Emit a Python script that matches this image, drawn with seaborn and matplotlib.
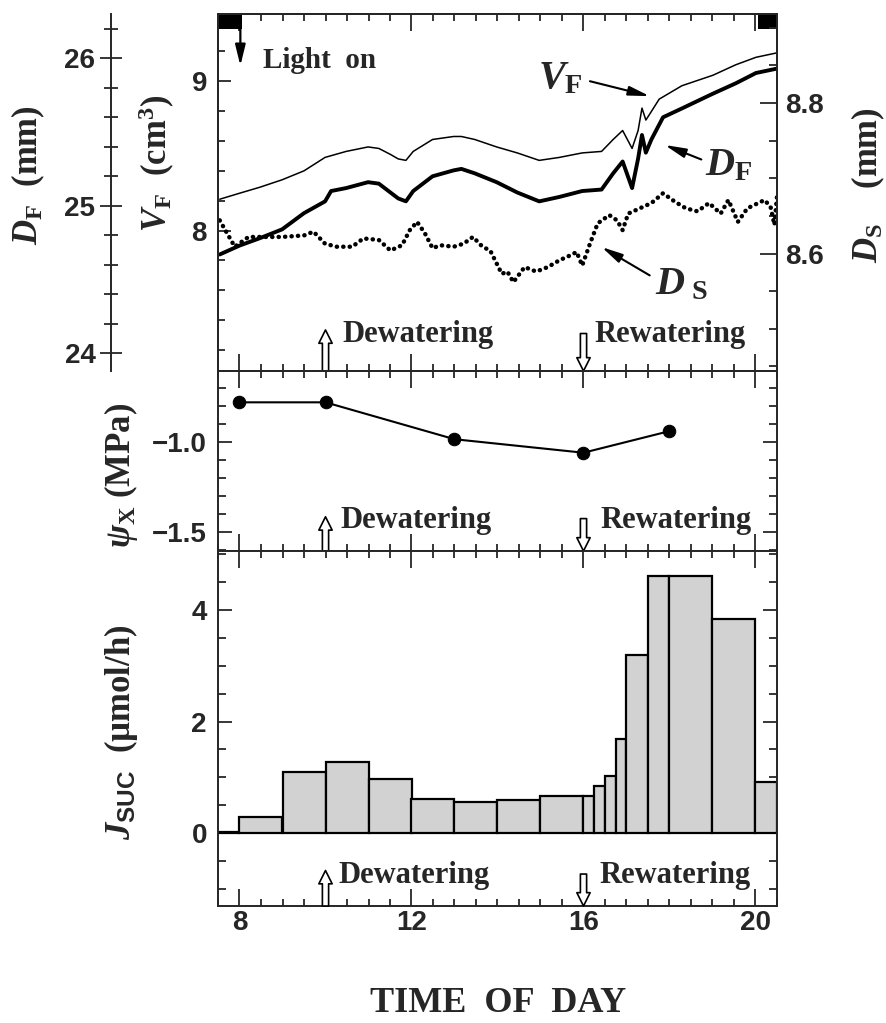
import numpy as np
import matplotlib as mpl
mpl.use('Agg')
import matplotlib.pyplot as plt
import matplotlib.transforms as mtransforms
from matplotlib.ticker import MultipleLocator
import seaborn as sns

# fruit volume V_F (cm3), thin line
vf_time = [7.54, 8.0, 8.47, 8.99, 9.5, 9.99, 10.48, 10.99, 11.24, 11.51, 11.69, 11.87,
           12.04, 12.49, 12.98, 13.16, 13.47, 13.98, 14.46, 14.97, 15.44, 15.97, 16.42,
           16.69, 16.91, 17.13, 17.27, 17.36, 17.45, 17.54, 17.76, 18.29, 19.01, 19.54,
           20.01, 20.5]
vf_cm3 = [8.21, 8.25, 8.29, 8.34, 8.40, 8.49, 8.53, 8.56, 8.55, 8.51, 8.48, 8.47,
          8.53, 8.61, 8.63, 8.63, 8.61, 8.56, 8.52, 8.47, 8.49, 8.52, 8.53,
          8.61, 8.67, 8.55, 8.67, 8.82, 8.74, 8.78, 8.88, 8.97, 9.04, 9.11,
          9.16, 9.19]

# fruit diameter D_F (mm), thick line
df_time = [7.54, 8.0, 8.47, 8.99, 9.5, 9.99, 10.13, 10.48, 10.99, 11.24, 11.51, 11.69,
           11.87, 12.04, 12.49, 12.98, 13.16, 13.47, 13.98, 14.46, 14.97, 15.44, 15.97,
           16.42, 16.69, 16.91, 17.13, 17.27, 17.36, 17.45, 17.58, 17.85, 18.29, 19.01,
           19.54, 20.01, 20.5]
df_mm = [24.67, 24.73, 24.78, 24.84, 24.95, 25.03, 25.10, 25.12, 25.16, 25.15, 25.09, 25.05,
         25.03, 25.10, 25.20, 25.24, 25.25, 25.22, 25.16, 25.09, 25.03, 25.06, 25.10,
         25.11, 25.22, 25.30, 25.12, 25.32, 25.48, 25.36, 25.45, 25.60, 25.66, 25.76,
         25.83, 25.90, 25.93]

# stem diameter D_S (mm), dotted
ds_time = [7.54, 7.71, 7.89, 8.21, 8.47, 8.99, 9.5, 9.72, 9.99, 10.26,
           10.62, 10.88, 11.24, 11.51, 11.78, 11.96, 12.13, 12.31, 12.49, 12.67,
           12.98, 13.21, 13.43, 13.65, 13.83, 14.1, 14.23, 14.37, 14.63, 14.9,
           15.17, 15.44, 15.71, 15.84, 15.97, 16.15, 16.33, 16.6, 16.78, 16.91,
           17.04, 17.31, 17.58, 17.85, 18.12, 18.38, 18.65, 18.92, 19.19, 19.37,
           19.59, 19.81, 20.21, 20.35, 20.44, 20.5]
ds_mm = [8.644, 8.627, 8.609, 8.622, 8.622, 8.622, 8.624, 8.629, 8.613, 8.609,
         8.609, 8.620, 8.618, 8.604, 8.611, 8.631, 8.642, 8.627, 8.607, 8.611,
         8.609, 8.613, 8.622, 8.609, 8.604, 8.573, 8.576, 8.562, 8.582, 8.576,
         8.582, 8.591, 8.598, 8.602, 8.584, 8.613, 8.640, 8.651, 8.644, 8.631,
         8.653, 8.660, 8.667, 8.680, 8.669, 8.660, 8.656, 8.667, 8.653, 8.671,
         8.642, 8.660, 8.671, 8.662, 8.638, 8.676]

# xylem water potential
psi_time = [8, 10, 13, 16, 18]
psi_mpa = [-0.78, -0.78, -0.985, -1.06, -0.94]

# sucrose import rate per interval
suc_edges = [7.5, 8, 9, 10, 11, 12, 13, 14, 15, 16, 16.25, 16.5, 16.75, 17, 17.5, 18, 19, 20, 20.5]
suc_rate = [0.03, 0.30, 1.09, 1.27, 0.97, 0.61, 0.56, 0.60, 0.66, 0.67, 0.85, 1.03,
            1.68, 3.19, 4.61, 4.61, 3.84, 0.91]

dark_periods = [(7.5, 8.05), (20.05, 20.5)]
dewater_time = 10
rewater_time = 16

sns.set_style('ticks')
plt.rcParams['font.family'] = ['Liberation Sans', 'DejaVu Sans']
plt.rcParams['font.weight'] = 'bold'
plt.rcParams['mathtext.fontset'] = 'custom'
plt.rcParams['mathtext.rm'] = 'Liberation Serif:bold'
plt.rcParams['mathtext.it'] = 'Liberation Serif:italic:bold'
plt.rcParams['mathtext.bf'] = 'Liberation Serif:bold'
plt.rcParams['mathtext.sf'] = 'Liberation Sans'
plt.rcParams['axes.linewidth'] = 1.4

serif = dict(family='Liberation Serif', weight='bold')
tick_fs = 20
lab_fs = 25

fig = plt.figure(figsize=(8.87, 10.23), dpi=100)
L, R = 218 / 887, 777 / 887
ax_top = fig.add_axes([L, 1 - 371 / 1023, R - L, 357 / 1023])
ax_mid = fig.add_axes([L, 1 - 551 / 1023, R - L, 180 / 1023], sharex=ax_top)
ax_bot = fig.add_axes([L, 1 - 906 / 1023, R - L, 355 / 1023], sharex=ax_top)
ax_df = ax_top.twinx()
ax_ds = ax_top.twinx()

##### top panel
sns.lineplot(x=vf_time, y=vf_cm3, ax=ax_top, color='black', lw=1.1)
sns.lineplot(x=df_time, y=df_mm, ax=ax_df, color='black', lw=2.8)
sns.lineplot(x=ds_time, y=ds_mm, ax=ax_ds, color='black', lw=3.2,
             linestyle=(0, (0.05, 1.4)), dash_capstyle='round')

ax_top.set_xlim(7.5, 20.5)
ax_top.set_ylim(7.06, 9.45)
ax_df.set_ylim(23.88, 26.30)
ax_ds.set_ylim(8.444, 8.918)

top_tr = mtransforms.blended_transform_factory(ax_top.transData, ax_top.transAxes)
for a, b in dark_periods:
    ax_top.axvspan(a, b, ymin=0.958, ymax=1.0, color='black', lw=0)

ax_top.annotate('', xy=(8.02, 0.855), xytext=(8.02, 0.958), xycoords=top_tr,
                arrowprops=dict(arrowstyle='-|>,head_width=0.22,head_length=0.9', color='black',
                                lw=1.6, shrinkA=0, shrinkB=0, mutation_scale=14))
ax_top.text(8.55, 0.85, 'Light  on', transform=top_tr, fontsize=21, va='baseline', **serif)

arr = dict(arrowstyle='-|>,head_width=0.2,head_length=0.9', color='black', lw=1.5,
           shrinkA=0, shrinkB=0, mutation_scale=14)
ax_top.text(14.95, 8.955, r'$V_{\mathrm{F}}$', fontsize=29, **serif)
ax_top.annotate('', xy=(17.54, 8.90), xytext=(16.15, 9.0), arrowprops=arr)
ax_top.text(18.83, 8.37, r'$D_{\mathrm{F}}$', fontsize=29, **serif)
ax_top.annotate('', xy=(17.89, 8.573), xytext=(18.74, 8.476), arrowprops=arr)
ax_top.text(17.67, 7.573, r'$D_{\ \mathrm{S}}$', fontsize=29, **serif)
ax_top.annotate('', xy=(16.42, 7.89), xytext=(17.54, 7.70), arrowprops=arr)

# y axes of the top panel
ax_top.set_yticks([8, 9])
ax_top.yaxis.set_minor_locator(MultipleLocator(0.2))
ax_top.tick_params(axis='y', which='both', direction='in', left=True, right=False,
                   labelleft=True, labelright=False, width=1.3, pad=8, labelsize=tick_fs)
ax_top.tick_params(axis='y', which='major', length=9)
ax_top.tick_params(axis='y', which='minor', length=5)

ax_ds.set_yticks([8.6, 8.8])
ax_ds.set_yticklabels(['8.6', '8.8'])
ax_ds.yaxis.set_minor_locator(MultipleLocator(0.05))
ax_ds.tick_params(axis='y', which='both', direction='in', right=True, left=False,
                  labelright=True, width=1.3, pad=6, labelsize=tick_fs)
ax_ds.tick_params(axis='y', which='major', length=12)
ax_ds.tick_params(axis='y', which='minor', length=6)

ax_df.yaxis.tick_left()
ax_df.yaxis.set_label_position('left')
ax_df.spines['left'].set_position(('axes', -0.192))
ax_df.spines['left'].set_visible(True)
for s in ['right', 'top', 'bottom']:
    ax_df.spines[s].set_visible(False)
ax_df.set_yticks([24, 25, 26])
ax_df.yaxis.set_minor_locator(MultipleLocator(0.2))
ax_df.tick_params(axis='y', which='both', direction='inout', width=1.3, pad=3, labelsize=tick_fs)
ax_df.tick_params(axis='y', which='major', length=16)
ax_df.tick_params(axis='y', which='minor', length=10)

ax_df.set_ylabel(r'$D_{\mathrm{F}}$  (mm)', fontsize=lab_fs, **serif)
ax_df.yaxis.set_label_coords(-0.306, 0.55)
ax_top.set_ylabel(r'$V_{\mathrm{F}}$  (cm$^{\mathrm{3}}$)', fontsize=lab_fs, **serif)
ax_top.yaxis.set_label_coords(-0.074, 0.583)
ax_ds.set_ylabel(r'$D_{\mathrm{S}}$    (mm)', fontsize=lab_fs, rotation=90, **serif)
ax_ds.yaxis.set_label_coords(1.13, 0.52)

##### middle panel
sns.lineplot(x=psi_time, y=psi_mpa, ax=ax_mid, color='black', lw=1.5, marker='o',
             markersize=9, markeredgecolor='black')
ax_mid.set_ylim(-1.606, -0.606)
ax_mid.set_yticks([-1.5, -1.0])
ax_mid.set_yticklabels(['\u22121.5', '\u22121.0'])
ax_mid.yaxis.set_minor_locator(MultipleLocator(0.1))
ax_mid.set_ylabel(r'$\psi_{\mathrm{X}}$ (MPa)', fontsize=lab_fs, **serif)
ax_mid.yaxis.set_label_coords(-0.14, 0.42)

##### bottom panel
suc_mid = (np.array(suc_edges[:-1]) + np.array(suc_edges[1:])) / 2
sns.histplot(x=suc_mid, weights=suc_rate, bins=suc_edges, ax=ax_bot, color='#d2d2d2',
             edgecolor='black', linewidth=1.6, alpha=1)
ax_bot.set_ylim(-1.3, 5.05)
ax_bot.set_yticks([0, 2, 4])
ax_bot.yaxis.set_minor_locator(MultipleLocator(0.5))
ax_bot.set_ylabel(r'$J_{\mathsf{SUC}}$  (µmol/h)', fontsize=lab_fs, **serif)
ax_bot.yaxis.set_label_coords(-0.14, 0.49)

for ax in [ax_mid, ax_bot]:
    ax.tick_params(axis='y', which='both', direction='in', left=True, right=True,
                   width=1.3, pad=8, labelsize=tick_fs)
    ax.tick_params(axis='y', which='major', length=10)
    ax.tick_params(axis='y', which='minor', length=6)

# shared time axis
ax_top.set_xticks([8, 12, 16, 20])
ax_top.xaxis.set_minor_locator(MultipleLocator(0.5))
for ax in [ax_top, ax_mid, ax_bot]:
    ax.set_xlabel('')
    ax.tick_params(axis='x', which='both', direction='in', top=True, bottom=True,
                   labelbottom=False, width=1.3, labelsize=tick_fs)
    ax.tick_params(axis='x', which='major', length=12)
    ax.tick_params(axis='x', which='minor', length=5)
ax_bot.tick_params(axis='x', labelbottom=True, pad=3)

# watering events
events = [(ax_top, 0.115, 0.081, 10.40, 16.25),
          (ax_mid, 0.19, 0.128, 10.35, 16.40),
          (ax_bot, 0.10, 0.065, 10.30, 16.38)]
for ax, h, ytxt, xd, xr in events:
    tr = mtransforms.blended_transform_factory(ax.transData, ax.transAxes)
    hollow = dict(arrowstyle='simple,head_width=0.6,head_length=0.6,tail_width=0.28',
                  fc='white', ec='black', lw=1.2, shrinkA=0, shrinkB=0, mutation_scale=16)
    ax.annotate('', xy=(dewater_time, h), xytext=(dewater_time, 0.0), xycoords=tr,
                textcoords=tr, arrowprops=hollow)
    ax.annotate('', xy=(rewater_time, 0.0), xytext=(rewater_time, h - 0.01), xycoords=tr,
                textcoords=tr, arrowprops=hollow)
    ax.text(xd, ytxt, 'Dewatering', transform=tr, fontsize=22, va='baseline', **serif)
    ax.text(xr, ytxt, 'Rewatering', transform=tr, fontsize=22, va='baseline', **serif)

fig.text(498 / 887, 1 - 1003 / 1023, 'TIME  OF  DAY', ha='center', va='center',
         fontsize=26, **serif)

plt.savefig('out.png', dpi=100)
